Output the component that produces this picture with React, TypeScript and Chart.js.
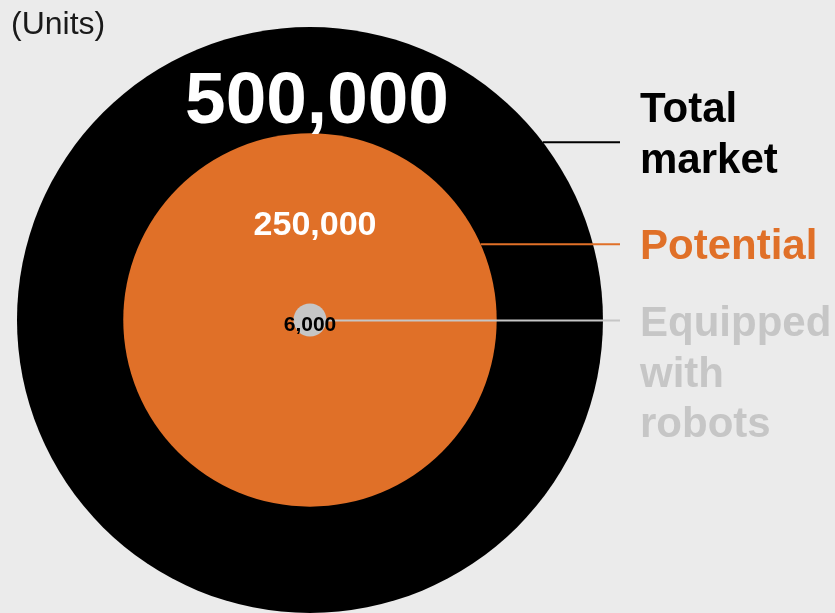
import React, { useEffect, useRef } from "react";
import { Chart, registerables } from "chart.js";

Chart.register(...registerables);

// ---- data ----
const categories = ["Total market", "Potential", "Equipped with robots"];
const values = [500000, 250000, 6000];
const valueLabels = ["500,000", "250,000", "6,000"];
const legendLines = [["Total", "market"], ["Potential"], ["Equipped", "with", "robots"]];
const unitLabel = "(Units)";

// ---- styles / layout ----
const FONT = '"Liberation Sans", Arial, Helvetica, sans-serif';
const BG = "#EBEBEB";
const FILL = ["#000000", "#E07028", "#C6C6C6"];
const TEXT = ["#000000", "#E07028", "#C6C6C6"];
const VALUE_COLOR = ["#FFFFFF", "#FFFFFF", "#000000"];
const VALUE_SIZE = [73, 34, 21];
const VALUE_DY = [-0.76, -0.52, 0.2]; // fraction of own radius
const VALUE_DX = [0.024, 0.027, 0];
const LEADER_DY = [-0.607, -0.406, 0.03];
const LEADER_END = 620;
const LABEL_X = 640;
const LABEL_SIZE = 42;
const LABEL_FIRST_BASE = [-20, 15, 16];
const LABEL_LINE_H = 50.5;
const EXP = 0.65;
const W = 835;
const H = 613;
// scale extents in units of the largest circle's radius
const X_MIN = -1.058;
const X_MAX = 1.792;
const Y_MIN = -1.0;
const Y_MAX = 1.092;

const maxV = Math.max(...values);

// pixels per scale unit (chart area spans whole canvas: padding 0, no auto padding)
function unitPx(chart: any) {
  return chart.width / (X_MAX - X_MIN);
}

const labelPlugin = {
  id: "labels",
  beforeDraw(chart: any) {
    const c = chart.ctx;
    c.save();
    c.fillStyle = BG;
    c.fillRect(0, 0, chart.width, chart.height);
    c.restore();
  },
  afterDatasetsDraw(chart: any) {
    const c = chart.ctx;
    const meta = chart.getDatasetMeta(0);
    c.save();
    meta.data.forEach((el: any, i: number) => {
      const r = el.options.radius;
      const cx = el.x;
      const cy = el.y;
      const dy = LEADER_DY[i] * r;
      const ly = cy + dy;
      const sx = cx + Math.sqrt(Math.max(0, r * r - dy * dy));
      c.strokeStyle = FILL[i];
      c.lineWidth = 2;
      c.beginPath();
      c.moveTo(sx, ly);
      c.lineTo(LEADER_END, ly);
      c.stroke();
      c.fillStyle = TEXT[i];
      c.font = `bold ${LABEL_SIZE}px ${FONT}`;
      c.textAlign = "left";
      c.textBaseline = "alphabetic";
      legendLines[i].forEach((line, k) => {
        c.fillText(line, LABEL_X, ly + LABEL_FIRST_BASE[i] + k * LABEL_LINE_H);
      });
    });
    meta.data.forEach((el: any, i: number) => {
      const r = el.options.radius;
      const size = VALUE_SIZE[i];
      c.fillStyle = VALUE_COLOR[i];
      c.font = `bold ${size}px ${FONT}`;
      c.textAlign = "center";
      c.textBaseline = "alphabetic";
      const x = el.x + VALUE_DX[i] * r;
      const y = el.y + VALUE_DY[i] * r + 0.358 * size;
      c.fillText(valueLabels[i], x, y);
    });
    c.fillStyle = "#1a1a1a";
    c.font = `32px ${FONT}`;
    c.textAlign = "left";
    c.fillText(unitLabel, 11, 34);
    c.restore();
  },
};

export default function App() {
  const ref = useRef<HTMLCanvasElement | null>(null);
  useEffect(() => {
    document.body.style.margin = "0";
    document.body.style.background = BG;
    if (!ref.current) return;
    const chart = new Chart(ref.current, {
      type: "bubble",
      data: {
        labels: categories,
        datasets: [
          {
            label: "Units",
            data: values.map((v) => ({ x: 0, y: 0, v })) as any,
            backgroundColor: FILL,
            borderWidth: 0,
            clip: false as any,
            radius: (ctx: any) => {
              const R = unitPx(ctx.chart);
              return R * Math.pow(values[ctx.dataIndex] / maxV, EXP);
            },
          } as any,
        ],
      },
      options: {
        animation: false,
        responsive: false,
        devicePixelRatio: 1,
        events: [],
        layout: { padding: 0, autoPadding: false } as any,
        scales: {
          x: { type: "linear", min: X_MIN, max: X_MAX, display: false },
          y: { type: "linear", min: Y_MIN, max: Y_MAX, display: false },
        },
        plugins: {
          legend: { display: false },
          tooltip: { enabled: false },
          title: { display: false },
        },
      },
      plugins: [labelPlugin],
    });
    return () => chart.destroy();
  }, []);
  return (
    <div style={{ width: W, height: H }}>
      <canvas ref={ref} width={W} height={H} style={{ display: "block" }} />
    </div>
  );
}
